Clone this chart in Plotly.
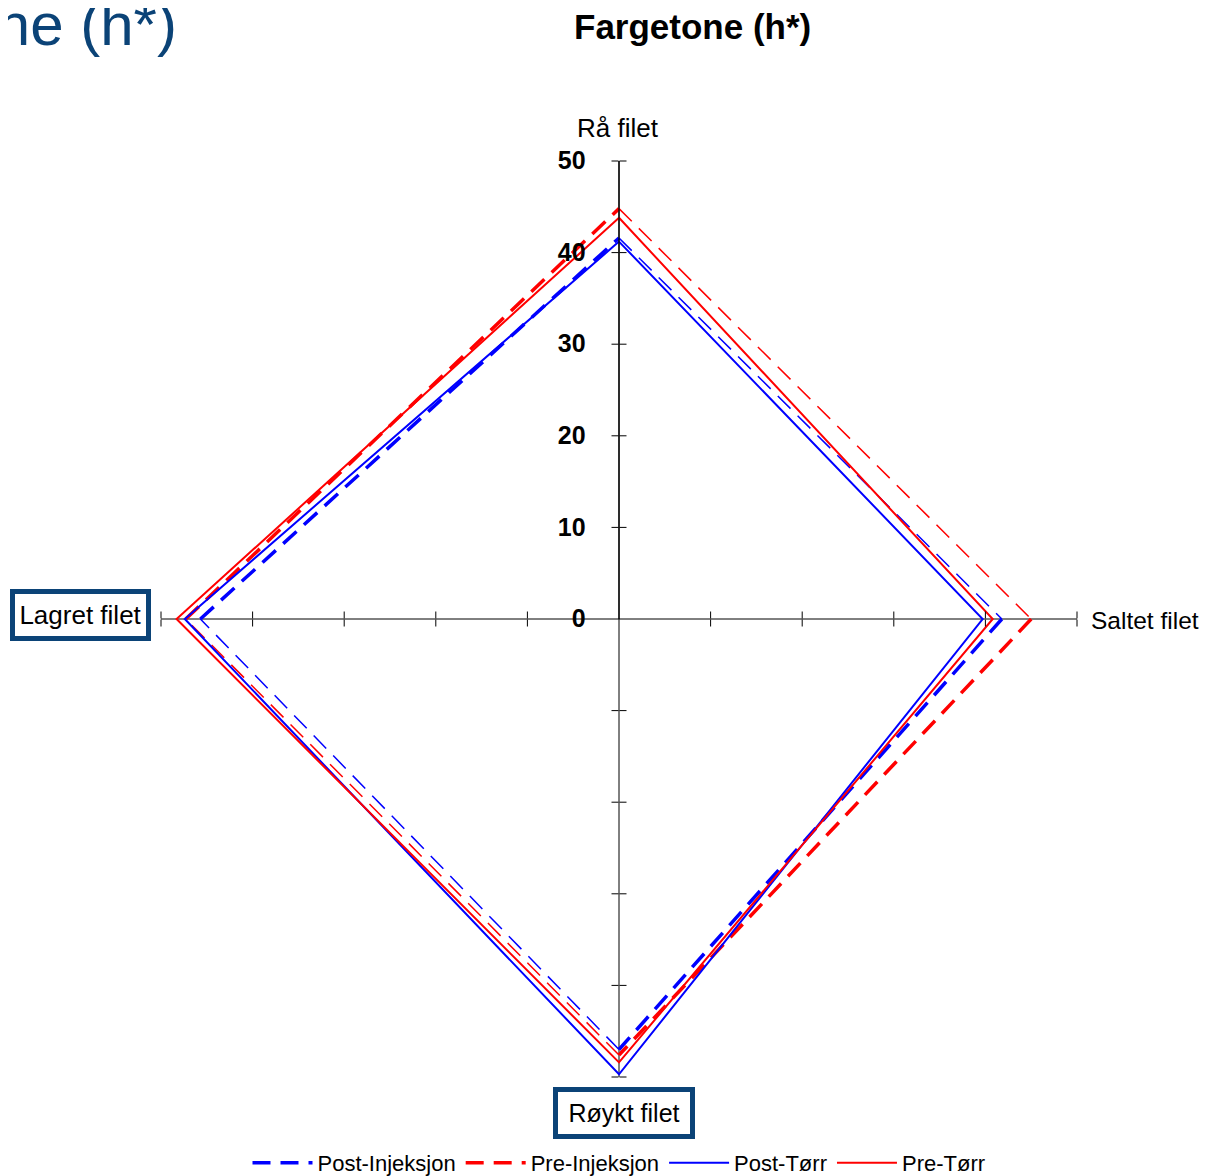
import plotly.graph_objects as go

# ---------------- data ----------------
categories = ["Rå filet", "Saltet filet", "Røykt filet", "Lagret filet"]
post_injeksjon = [41.6, 41.8, 47.0, 45.7]
pre_injeksjon = [44.8, 45.0, 47.6, 47.3]
post_torr = [41.2, 39.7, 49.7, 47.4]
pre_torr = [43.8, 40.8, 48.4, 48.3]
radial_ticks = [0, 10, 20, 30, 40, 50]

# page has an 8px body margin: figure pixel = screen pixel - 8
OFF = 8
W, H = 1210 - OFF, 1176 - OFF
FONT = "Liberation Sans, Arial, sans-serif"
BLUE = "#0000FF"
RED = "#FF0000"
NAVY = "#0B4377"


def px(x):
    return (x - OFF) / W


def py(y):
    return 1 - (y - OFF) / H


# polar domain: centre (619,619), radius 458 px (screen coordinates)
dom = dict(x=[px(161), px(1077)], y=[py(1077), py(161)])

fig = go.Figure()


def seg_trace(values, pairs):
    r, th = [], []
    for a, b in pairs:
        r += [values[a], values[b], None]
        th += [categories[a], categories[b], None]
    return r, th


thick_pairs = [(3, 0), (1, 2)]
thin_pairs = [(0, 1), (2, 3)]

for name, vals, col in [("Post-Injeksjon", post_injeksjon, BLUE),
                        ("Pre-Injeksjon", pre_injeksjon, RED)]:
    r, th = seg_trace(vals, thick_pairs)
    fig.add_trace(go.Scatterpolar(r=r, theta=th, mode="lines", name=name,
                                  legendgroup=name, connectgaps=False,
                                  line=dict(color=col, width=3.5, dash="18px,10px"),
                                  hoverinfo="skip"))
    r, th = seg_trace(vals, thin_pairs)
    fig.add_trace(go.Scatterpolar(r=r, theta=th, mode="lines", name=name,
                                  legendgroup=name, showlegend=False, connectgaps=False,
                                  line=dict(color=col, width=1.5, dash="18px,10px"),
                                  hoverinfo="skip"))

for name, vals, col in [("Post-Tørr", post_torr, BLUE),
                        ("Pre-Tørr", pre_torr, RED)]:
    fig.add_trace(go.Scatterpolar(r=vals + [vals[0]], theta=categories + [categories[0]],
                                  mode="lines", name=name,
                                  line=dict(color=col, width=2), hoverinfo="skip"))

layout_polars = {}
layout_polars["polar"] = dict(
    domain=dom,
    bgcolor="white",
    radialaxis=dict(range=[0, 50], angle=90, side="counterclockwise", tickangle=90,
                    tickvals=radial_ticks, ticks="outside", ticklen=24,
                    tickcolor="rgba(0,0,0,0)", showline=True, linecolor="black",
                    linewidth=1.3, showgrid=False,
                    tickfont=dict(family=FONT, size=25, color="black", weight="bold")),
    angularaxis=dict(type="category", categoryarray=categories, rotation=90,
                     direction="clockwise", showgrid=True, gridcolor="black",
                     gridwidth=1.3, showline=False, ticks="", showticklabels=False),
)

# overlay polars that draw crossing tick marks on all four spokes
k = 2
for ang in [90, 0, 270, 180]:
    for side in ["clockwise", "counterclockwise"]:
        key = f"polar{k}"
        layout_polars[key] = dict(
            domain=dom,
            bgcolor="rgba(0,0,0,0)",
            radialaxis=dict(range=[0, 50], angle=ang, side=side,
                            tickvals=radial_ticks[1:], ticks="outside", ticklen=7,
                            tickwidth=1.3, tickcolor="black", showticklabels=False,
                            showline=False, showgrid=False),
            angularaxis=dict(visible=False, showgrid=False),
        )
        fig.add_trace(go.Scatterpolar(r=[0], theta=[0], mode="lines", subplot=key,
                                      showlegend=False, hoverinfo="skip"))
        k += 1

fig.update_layout(**layout_polars)

annotations = [
    dict(text="Fargetone (h*)", x=px(179), y=py(24), xanchor="right", yanchor="middle",
         font=dict(family=FONT, size=60, color=NAVY)),
    dict(text="<b>Fargetone (h*)</b>", x=px(692), y=py(26), xanchor="center", yanchor="middle",
         font=dict(family=FONT, size=35, color="black")),
    dict(text="Rå filet", x=px(618), y=py(128), xanchor="center", yanchor="middle",
         font=dict(family=FONT, size=26, color="black")),
    dict(text="Saltet filet", x=px(1089), y=py(620), xanchor="left", yanchor="middle",
         font=dict(family=FONT, size=24.5, color="black")),
    dict(text="Lagret filet", x=px(80.5), y=py(615), xanchor="center", yanchor="middle",
         width=125, height=36, borderwidth=5, borderpad=3, bordercolor=NAVY,
         bgcolor="white", font=dict(family=FONT, size=26, color="black")),
    dict(text="Røykt filet", x=px(624), y=py(1113), xanchor="center", yanchor="middle",
         width=126, height=36, borderwidth=5, borderpad=3, bordercolor=NAVY,
         bgcolor="white", font=dict(family=FONT, size=25, color="black")),
]
for a in annotations:
    a.update(xref="paper", yref="paper", showarrow=False)

fig.update_layout(
    width=W, height=H,
    margin=dict(l=0, r=0, t=0, b=0, autoexpand=False),
    paper_bgcolor="white",
    plot_bgcolor="white",
    font=dict(family=FONT, color="black"),
    annotations=annotations,
    showlegend=True,
    legend=dict(orientation="h", x=px(619), xanchor="center", y=py(1163),
                yanchor="middle", font=dict(family=FONT, size=22, color="black"),
                bgcolor="rgba(0,0,0,0)", itemwidth=60, traceorder="normal"),
)

fig.write_html("out.html")
